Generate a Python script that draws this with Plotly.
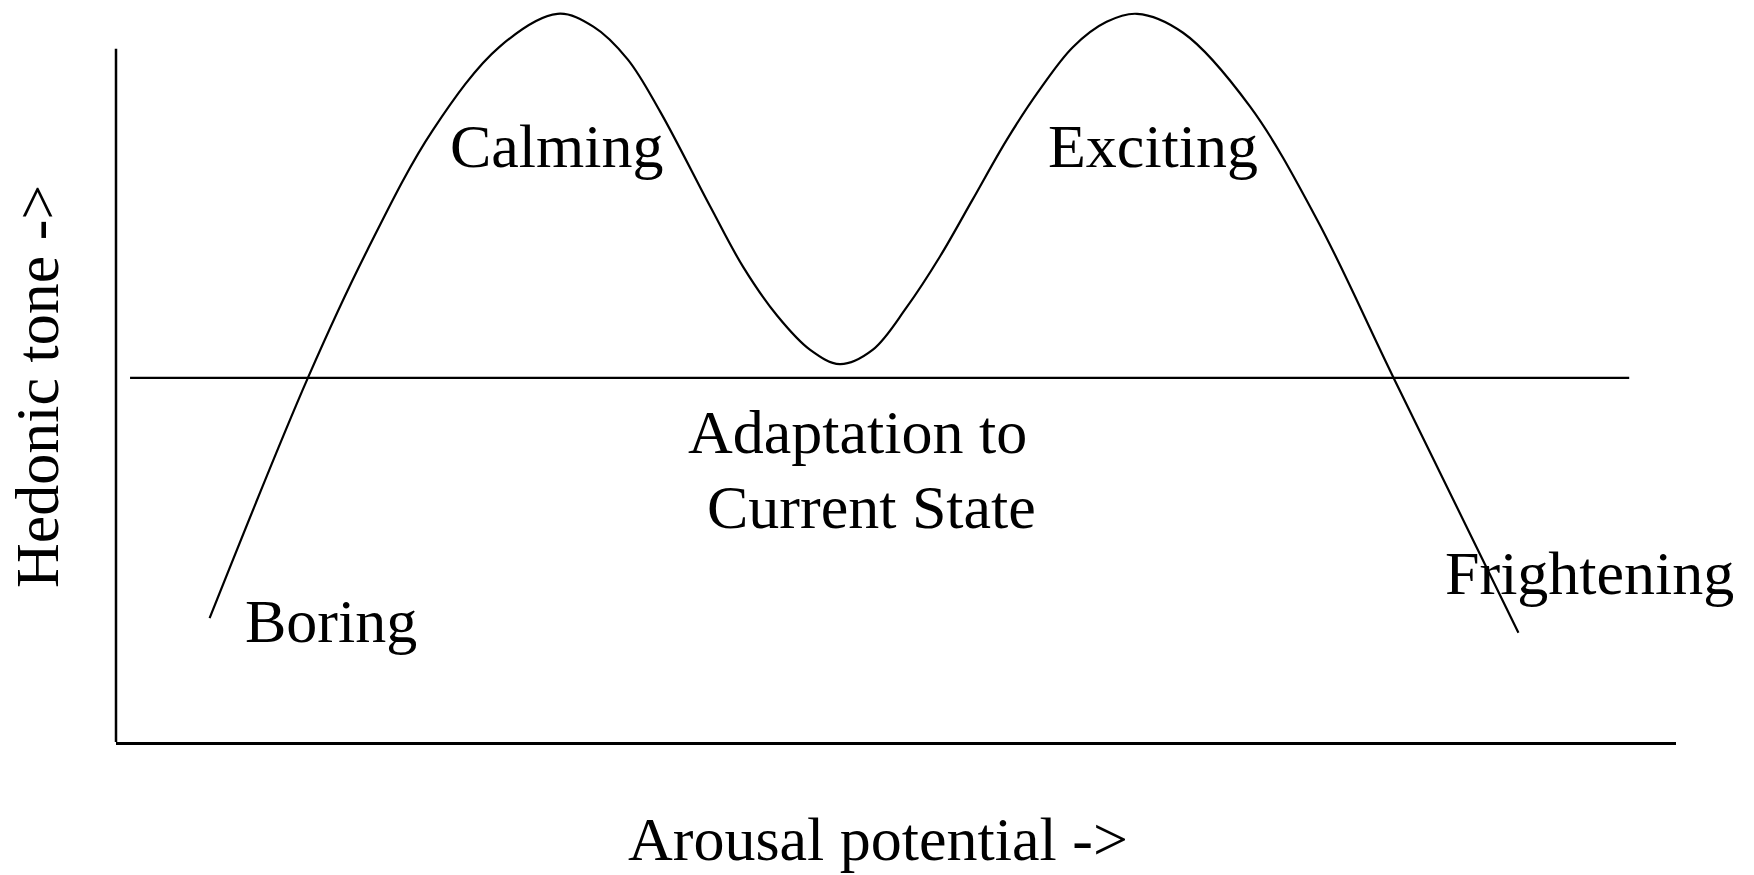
import plotly.graph_objects as go

# ---- data ----
# arousal potential (0-100 units along the x axis) and hedonic tone
# (0 = adaptation level, peaks at +10)
curve_x = [6.0, 12.3, 16.1, 20.3, 24.6, 28.3, 30.6, 32.8, 34.9, 38.1, 40.2,
           42.4, 44.5, 46.4, 48.5, 50.7, 52.8, 54.9, 57.1, 59.2, 61.35, 63.5,
           65.45, 68.4, 72.7, 77.0, 81.9, 89.9]
curve_y = [-6.6, 0.0, 3.5, 6.8, 9.1, 10.0, 9.65, 8.75, 7.3, 4.7, 3.05,
           1.7, 0.77, 0.38, 0.77, 1.95, 3.32, 4.89, 6.54, 7.91, 9.09, 9.78,
           10.0, 9.48, 7.45, 4.34, 0.0, -7.0]

adaptation_level = 0.0
adaptation_x = [0.9, 97.0]

region_labels = ["Calming", "Exciting", "Boring", "Frightening"]
adaptation_lines = ["Adaptation to", "Current State"]
x_title = "Arousal potential ->"
y_title = "Hedonic tone ->"

# ---- layout constants (positions / styles) ----
X_RANGE = [0, 100]
Y_RANGE = [-10, 10.38]
Y_AXIS_TOP = 9.04
FONT = "Liberation Serif, Times New Roman, serif"
FS = 62

region_pos = [(28.3, 6.37), (66.5, 6.37), (13.8, -6.68), (94.45, -5.36)]
adapt_pos = [(36.67, -1.48), (37.88, -3.54)]

fig = go.Figure()

fig.add_trace(go.Scatter(
    x=adaptation_x, y=[adaptation_level] * len(adaptation_x),
    mode="lines", line=dict(color="black", width=2.2),
    hoverinfo="skip", showlegend=False))

fig.add_trace(go.Scatter(
    x=curve_x, y=curve_y, mode="lines",
    line=dict(color="black", width=2.2, shape="spline", smoothing=1.0),
    hoverinfo="skip", showlegend=False))

annotations = []
for txt, (ax_, ay_) in zip(region_labels, region_pos):
    annotations.append(dict(x=ax_, y=ay_, xref="x", yref="y", text=txt,
                            showarrow=False, xanchor="center", yanchor="middle",
                            borderpad=0, borderwidth=0,
                            font=dict(family=FONT, size=FS, color="black")))
for txt, (ax_, ay_) in zip(adaptation_lines, adapt_pos):
    annotations.append(dict(x=ax_, y=ay_, xref="x", yref="y", text=txt,
                            showarrow=False, xanchor="left", yanchor="middle",
                            borderpad=0, borderwidth=0,
                            font=dict(family=FONT, size=FS, color="black")))
annotations.append(dict(x=0.4885, y=-0.1307, xref="paper", yref="paper",
                        text=x_title, showarrow=False, xanchor="center",
                        yanchor="middle", borderpad=0, borderwidth=0,
                        font=dict(family=FONT, size=FS, color="black")))
annotations.append(dict(x=-0.0506, y=0.4784, xref="paper", yref="paper",
                        text=y_title, showarrow=False, textangle=-90,
                        xanchor="center", yanchor="middle", borderpad=0,
                        borderwidth=0,
                        font=dict(family=FONT, size=FS, color="black")))

fig.update_layout(
    width=1754, height=875,
    margin=dict(l=116, r=78, t=0, b=133, pad=0),
    paper_bgcolor="white", plot_bgcolor="white",
    showlegend=False,
    annotations=annotations,
    shapes=[dict(type="line", xref="paper", yref="y", x0=0, x1=0,
                 y0=Y_RANGE[0], y1=Y_AXIS_TOP,
                 line=dict(color="black", width=2.5))],
    xaxis=dict(range=X_RANGE, showline=True, linecolor="black", linewidth=2.5,
               showgrid=False, zeroline=False, showticklabels=False,
               ticks="", fixedrange=True),
    yaxis=dict(range=Y_RANGE, showline=False, showgrid=False, zeroline=False,
               showticklabels=False, ticks="", fixedrange=True),
)

fig.write_html(
    "out.html",
    config={"displayModeBar": False},
    post_script="document.body.style.margin='0';"
                "document.body.style.overflow='hidden';",
)
